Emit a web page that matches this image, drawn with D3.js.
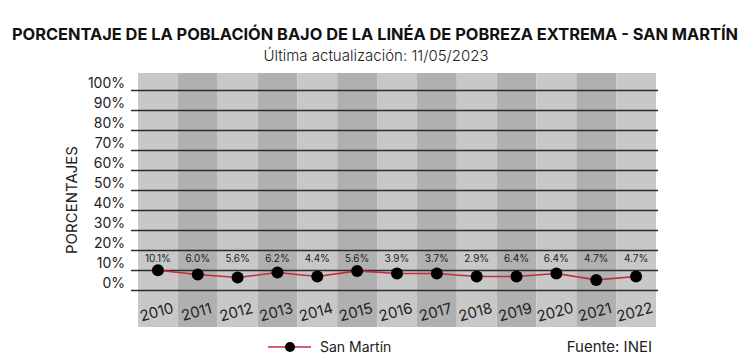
<!DOCTYPE html>
<html><head><meta charset="utf-8">
<script src="https://cdn.jsdelivr.net/npm/d3@7"></script>
<style>body{margin:0;background:#fff}svg{display:block}text{font-family:Inter,"Open Sans",sans-serif}</style>
</head><body><svg id="c" width="750" height="364"></svg>
<script>
const years = ["2010","2011","2012","2013","2014","2015","2016","2017","2018","2019","2020","2021","2022"];
const plotted = [10.1, 8.0, 6.5, 9.0, 7.0, 9.8, 8.5, 8.5, 7.0, 7.0, 8.5, 5.3, 7.0];
const labels = ["10.1%","6.0%","5.6%","6.2%","4.4%","5.6%","3.9%","3.7%","2.9%","6.4%","6.4%","4.7%","4.7%"];
const yTicks = [0,10,20,30,40,50,60,70,80,90,100];
const seriesName = "San Martín";

const svg = d3.select("#c");
const L = 138, R = 656, T = 73, B = 327;
const x = d3.scaleBand().domain(years).range([L, R]);
const y = d3.scaleLinear().domain([0, 100]).range([290.5, 90.5]);

svg.append("text").attr("x",375).attr("y",40).attr("text-anchor","middle")
  .attr("font-size",16).attr("font-weight",700).attr("fill","#111")
  .attr("textLength",726).attr("lengthAdjust","spacingAndGlyphs")
  .text("PORCENTAJE DE LA POBLACIÓN BAJO DE LA LINÉA DE POBREZA EXTREMA - SAN MARTÍN");
svg.append("text").attr("x",376).attr("y",61).attr("text-anchor","middle")
  .attr("font-size",15).attr("font-weight",300).attr("fill","#222")
  .text("Última actualización: 11/05/2023");

// column bands
svg.append("g").selectAll("rect").data(years).join("rect")
  .attr("x", d => x(d)).attr("y", T).attr("width", x.bandwidth()).attr("height", B - T)
  .attr("fill", (d,i) => i % 2 ? "#b0b0b0" : "#c8c8c8");

// gridlines
svg.append("g").selectAll("line").data(yTicks).join("line")
  .attr("x1", 131).attr("x2", 658).attr("y1", d => y(d)).attr("y2", d => y(d))
  .attr("stroke", "#2a2a2a").attr("stroke-width", 1.5);

// y labels
svg.append("g").selectAll("text").data(yTicks).join("text")
  .attr("x", 125).attr("y", d => y(d) - 3).attr("text-anchor","end")
  .attr("font-size",14).attr("fill","#222").text(d => d + "%");

svg.append("text").attr("transform","translate(77,200) rotate(-90)")
  .attr("text-anchor","middle").attr("font-size",15).attr("fill","#222").text("PORCENTAJES");

// x labels
svg.append("g").selectAll("text").data(years).join("text")
  .attr("transform", d => `translate(${x(d) + x.bandwidth()/2},${317}) rotate(-15)`)
  .attr("text-anchor","middle").attr("font-size",15).attr("fill","#222").text(d => d);

// line
const line = d3.line().x((d,i) => x(years[i]) + x.bandwidth()/2).y(d => y(d));
svg.append("path").datum(plotted).attr("d", line).attr("fill","none")
  .attr("stroke","#c8283c").attr("stroke-width",1.6);
svg.append("g").selectAll("circle").data(plotted).join("circle")
  .attr("cx",(d,i) => x(years[i]) + x.bandwidth()/2).attr("cy", d => y(d))
  .attr("r",6).attr("fill","#000");

// data labels
svg.append("g").selectAll("text").data(labels).join("text")
  .attr("x",(d,i) => x(years[i]) + x.bandwidth()/2).attr("y", 262)
  .attr("text-anchor","middle").attr("font-size",10).attr("fill","#222").text(d => d);

// legend
svg.append("line").attr("x1",268).attr("x2",311).attr("y1",347).attr("y2",347)
  .attr("stroke","#c8283c").attr("stroke-width",1.6);
svg.append("circle").attr("cx",290).attr("cy",347).attr("r",5).attr("fill","#000");
svg.append("text").attr("x",320).attr("y",352).attr("font-size",14).attr("fill","#222").text(seriesName);
svg.append("text").attr("x",652).attr("y",352).attr("text-anchor","end").attr("font-size",15).attr("fill","#222").text("Fuente: INEI");
</script></body></html>
